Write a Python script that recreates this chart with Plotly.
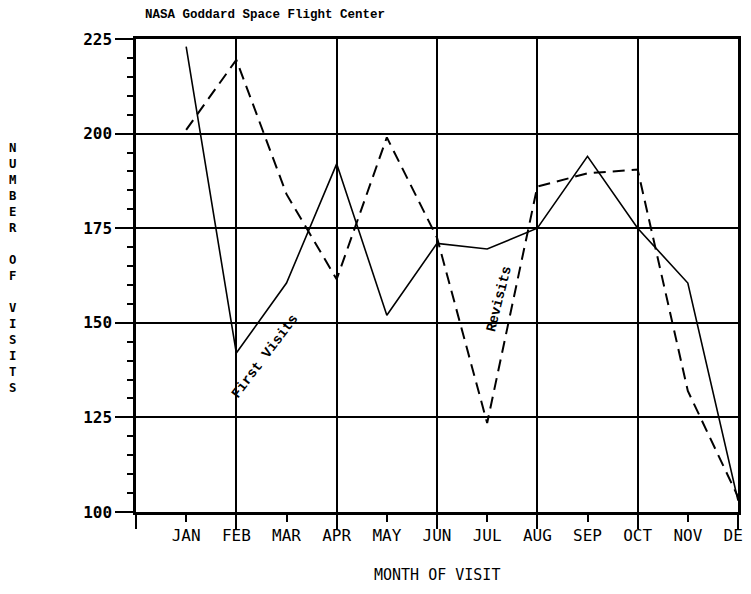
import plotly.graph_objects as go

months = ["JAN", "FEB", "MAR", "APR", "MAY", "JUN", "JUL", "AUG", "SEP", "OCT", "NOV", "DEC"]
month_num = list(range(1, 13))
first_visits = [223, 142, 160.5, 192, 152, 171, 169.5, 175, 194, 175, 160.5, 103]
revisits = [201, 219.5, 184, 161.5, 199, 172.5, 123.5, 186, 189.5, 190.5, 132, 104]
y_ticks = [100, 125, 150, 175, 200, 225]
grid_months = [0, 2, 4, 6, 8, 10, 12]

MONO = "DejaVu Sans Mono"
TYPE = "Liberation Mono"

fig = go.Figure()
fig.add_trace(go.Scatter(x=month_num, y=first_visits, mode="lines", name="First Visits",
                         line=dict(color="black", width=1.6)))
fig.add_trace(go.Scatter(x=month_num, y=revisits, mode="lines", name="Revisits", xaxis="x2",
                         line=dict(color="black", width=2, dash="12px,7px")))

# page body has an 8px default margin, so the figure is sized to fit the window
fig.update_layout(
    width=735, height=578,
    margin=dict(l=128, r=5, t=31, b=74, autoexpand=False),
    paper_bgcolor="white", plot_bgcolor="white",
    showlegend=False,
    xaxis=dict(range=[0, 12], tickmode="array", tickvals=month_num, ticktext=months,
               ticks="outside", ticklen=7, tickwidth=2, tickcolor="black", automargin=False,
               showgrid=False, zeroline=False, showline=True, linecolor="black", linewidth=2.5,
               mirror=True, ticklabeloverflow="allow",
               tickfont=dict(family=MONO, size=16, color="black")),
    xaxis2=dict(range=[0, 12], overlaying="x", anchor="y", side="bottom", automargin=False,
                tickmode="array", tickvals=grid_months, ticks="outside", ticklen=16,
                tickwidth=2, tickcolor="black", showticklabels=False,
                showgrid=True, gridcolor="black", gridwidth=2, zeroline=False, showline=False),
    yaxis=dict(range=[100, 225], tickmode="array", tickvals=y_ticks, automargin=False,
               ticks="outside", ticklen=18, tickwidth=2, tickcolor="black",
               showgrid=True, gridcolor="black", gridwidth=2, zeroline=False,
               showline=True, linecolor="black", linewidth=2.5, mirror=True,
               tickfont=dict(family=MONO, size=16, color="black", weight="bold"),
               minor=dict(dtick=5, tick0=100, ticks="outside", ticklen=6, tickwidth=2,
                          tickcolor="black", showgrid=False)),
)

fig.add_annotation(text="<b>NASA Goddard Space Flight Center</b>", xref="paper", yref="paper",
                   x=0.0116, y=1.0507, xanchor="left", yanchor="middle", showarrow=False,
                   font=dict(family=TYPE, size=12.5, color="black"))
fig.add_annotation(text="<br>".join(list("NUMBER")) + "<br><br>" + "<br>".join(list("OF")) + "<br><br>" + "<br>".join(list("VISITS")),
                   xref="paper", yref="paper", x=-0.204, y=0.516, xanchor="center", yanchor="middle",
                   showarrow=False, font=dict(family=MONO, size=12.3, color="black", weight="bold"))
fig.add_annotation(text="MONTH OF VISIT", xref="paper", yref="paper", x=0.5, y=-0.133,
                   xanchor="center", yanchor="middle", showarrow=False,
                   font=dict(family=MONO, size=15, color="black"))
fig.add_annotation(text="<b>First Visits</b>", x=2.57, y=141.3, textangle=-53, showarrow=False,
                   font=dict(family=TYPE, size=14, color="black"))
fig.add_annotation(text="<b>Revisits</b>", x=7.24, y=156.2, textangle=-76, showarrow=False,
                   font=dict(family=TYPE, size=14, color="black"))

fig.write_html("out.html")
